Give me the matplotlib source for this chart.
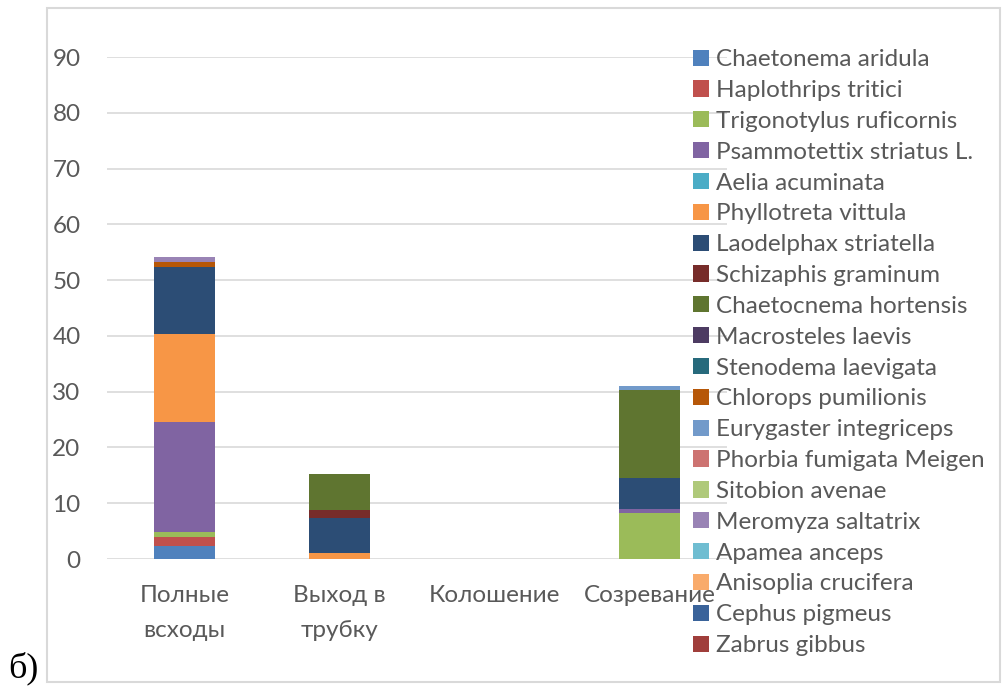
import numpy as np
import matplotlib
matplotlib.use("Agg")
import matplotlib.pyplot as plt
from matplotlib.patches import Rectangle

# Фазы развития (категории)
stages = ["Полные\nвсходы", "Выход в\nтрубку", "Колошение", "Созревание"]

# Виды вредителей (порядок серий снизу вверх)
species = [
    "Chaetonema aridula", "Haplothrips tritici", "Trigonotylus ruficornis",
    "Psammotettix striatus L.", "Aelia acuminata", "Phyllotreta vittula",
    "Laodelphax striatella", "Schizaphis graminum", "Chaetocnema hortensis",
    "Macrosteles laevis", "Stenodema laevigata", "Chlorops pumilionis",
    "Eurygaster integriceps", "Phorbia fumigata Meigen", "Sitobion avenae",
    "Meromyza saltatrix", "Apamea anceps", "Anisoplia crucifera",
    "Cephus pigmeus", "Zabrus gibbus",
]

# Значения по фазам (оценка по рисунку)
values = [
    [2.4, 0.0, 0, 0.0],
    [1.6, 0.0, 0, 0.0],
    [0.8, 0.0, 0, 8.2],
    [19.7, 0.0, 0, 0.8],
    [0.0, 0.0, 0, 0.0],
    [15.9, 1.0, 0, 0.0],
    [12.0, 6.4, 0, 5.5],
    [0.0, 1.3, 0, 0.0],
    [0.0, 6.6, 0, 15.8],
    [0.0, 0.0, 0, 0.0],
    [0.0, 0.0, 0, 0.0],
    [0.8, 0.0, 0, 0.0],
    [0.0, 0.0, 0, 0.8],
    [0.0, 0.0, 0, 0.0],
    [0.0, 0.0, 0, 0.0],
    [0.9, 0.0, 0, 0.0],
    [0.0, 0.0, 0, 0.0],
    [0.0, 0.0, 0, 0.0],
    [0.0, 0.0, 0, 0.0],
    [0.0, 0.0, 0, 0.0],
]

colors = [
    "#4F81BD", "#C0504D", "#9BBB59", "#8064A2", "#4BACC6", "#F79646",
    "#2C4D75", "#772C2A", "#5F7530", "#4D3B62", "#276A7C", "#B65708",
    "#729ACA", "#CD7371", "#AFC97A", "#9983B5", "#6FBDD1", "#F9AB6B",
    "#3A639A", "#A03E3B",
]

plt.rcParams["font.family"] = ["Lato", "DejaVu Sans"]
txt_color = "#595959"
fs = 17.5

W, H = 1004, 691
fig = plt.figure(figsize=(W / 100, H / 100), dpi=100)

# рамка диаграммы
fig.patches.append(Rectangle((47 / W, 1 - 682 / H), (1000 - 47) / W, (682 - 8) / H,
                             transform=fig.transFigure, fill=False,
                             edgecolor="#D9D9D9", linewidth=1.5))

ax = fig.add_axes([107 / W, 1 - 559 / H, (727 - 107) / W, (559 - 57) / H])

x = np.arange(len(stages))
bottom = np.zeros(len(stages))
for name, vals, col in zip(species, values, colors):
    vals = np.array(vals)
    ax.bar(x, vals, width=0.39, bottom=bottom, color=col, label=name,
           linewidth=0, zorder=3)
    bottom += vals

ax.set_xlim(-0.5, len(stages) - 0.5)
ax.set_ylim(0, 90)
ax.set_yticks(np.arange(0, 91, 10))
ax.set_xticks(x)
ax.set_xticklabels(stages, linespacing=1.8)
ax.yaxis.grid(True, color="#D9D9D9", linewidth=1.2, zorder=0)
for s in ax.spines.values():
    s.set_visible(False)
ax.tick_params(axis="both", length=0, labelsize=fs, colors=txt_color)
ax.tick_params(axis="y", pad=19)
ax.tick_params(axis="x", pad=19)

leg = ax.legend(loc="upper left", bbox_to_anchor=(681 / W, 1 - 37 / H),
                bbox_transform=fig.transFigure, frameon=False,
                fontsize=fs, handlelength=0.65, handleheight=0.65,
                handletextpad=0.3, labelspacing=0.405, borderpad=0)
for t in leg.get_texts():
    t.set_color(txt_color)

fig.text(8 / W, 1 - 668 / H, "б)", fontsize=26, family="Liberation Serif",
         va="center", ha="left", color="black")

fig.savefig("out.png", dpi=100)
